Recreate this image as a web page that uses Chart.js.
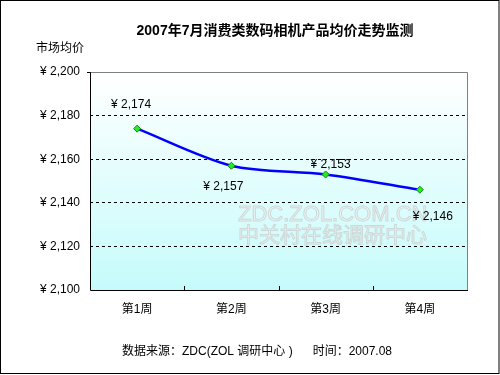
<!DOCTYPE html>
<html>
<head>
<meta charset="utf-8">
<script src="https://cdn.jsdelivr.net/npm/chart.js@4/dist/chart.umd.min.js"></script>
<style>
  html, body { margin: 0; padding: 0; background: #fff; }
  canvas { display: block; }
</style>
</head>
<body>
<canvas id="chart" width="500" height="375"></canvas>
<script>
// data
const weeks = ["第1周", "第2周", "第3周", "第4周"];
const avgPrice = [2174, 2157, 2153, 2146];
const yTicks = [2100, 2120, 2140, 2160, 2180, 2200];

const FONT = '"Liberation Sans", "Noto Sans CJK SC", sans-serif';

// label offsets relative to each point (dx, dy)
const labelOffsets = [[-6, -24], [-8, 21], [5, -10], [13, 27]];

function yen(v) {
    return "¥ " + v.toLocaleString("en-US");
}

const decorPlugin = {
    id: "decor",
    beforeDraw(chart) {
        const { ctx, chartArea: a } = chart;
        ctx.save();
        ctx.fillStyle = "#fff";
        ctx.fillRect(0, 0, chart.width, chart.height);
        const g = ctx.createLinearGradient(0, a.top, 0, a.bottom);
        g.addColorStop(0, "#ffffff");
        g.addColorStop(1, "#c6fbfb");
        ctx.fillStyle = g;
        ctx.fillRect(a.left, a.top, a.right - a.left, a.bottom - a.top);
        ctx.restore();
    },
    beforeDatasetsDraw(chart) {
        const { ctx, chartArea: a } = chart;
        ctx.save();
        // watermark
        ctx.textAlign = "left";
        ctx.textBaseline = "middle";
        ctx.fillStyle = "rgba(240,244,244,0.9)";
        ctx.strokeStyle = "rgba(200,208,208,0.8)";
        ctx.lineWidth = 1;
        ctx.font = "22px " + FONT;
        ctx.fillText("ZDC.ZOL.COM.CN", 238, 215);
        ctx.strokeText("ZDC.ZOL.COM.CN", 238, 215);
        ctx.font = "21px " + FONT;
        ctx.fillText("中关村在线调研中心", 238, 236);
        ctx.strokeText("中关村在线调研中心", 238, 236);

        // plot borders
        ctx.lineWidth = 1;
        ctx.strokeStyle = "#808080";
        ctx.beginPath();
        ctx.moveTo(a.left, a.top + 0.5);
        ctx.lineTo(a.right + 0.5, a.top + 0.5);
        ctx.lineTo(a.right + 0.5, a.bottom);
        ctx.stroke();
        ctx.strokeStyle = "#000";
        ctx.beginPath();
        ctx.moveTo(a.left - 3, a.top + 0.5);
        ctx.lineTo(a.left + 0.5, a.top + 0.5);
        ctx.lineTo(a.left + 0.5, a.bottom + 0.5);
        ctx.lineTo(a.right + 1, a.bottom + 0.5);
        ctx.stroke();

        // inward tick marks between categories
        const xs = chart.scales.x;
        ctx.beginPath();
        for (let i = 1; i < weeks.length; i++) {
            const x = Math.round((xs.getPixelForValue(i - 1) + xs.getPixelForValue(i)) / 2) + 0.5;
            ctx.moveTo(x, a.bottom - 4);
            ctx.lineTo(x, a.bottom);
        }
        ctx.stroke();
        ctx.restore();
    },
    afterDatasetsDraw(chart) {
        const { ctx } = chart;
        const meta = chart.getDatasetMeta(0);
        ctx.save();
        ctx.font = "12px " + FONT;
        ctx.fillStyle = "#000";
        ctx.textAlign = "center";
        ctx.textBaseline = "middle";
        meta.data.forEach((pt, i) => {
            const [dx, dy] = labelOffsets[i];
            ctx.fillText(yen(avgPrice[i]), pt.x + dx, pt.y + dy);
        });
        ctx.restore();
    },
    afterDraw(chart) {
        const { ctx } = chart;
        ctx.save();
        ctx.fillStyle = "#000";
        ctx.textBaseline = "middle";
        ctx.textAlign = "center";
        ctx.font = "bold 14px " + FONT;
        ctx.fillText("2007年7月消费类数码相机产品均价走势监测", 275, 31);
        ctx.textAlign = "left";
        ctx.font = "12px " + FONT;
        ctx.fillText("市场均价", 36, 49);
        ctx.fillText("数据来源：ZDC(ZOL 调研中心 )      时间：2007.08", 122, 352);
        ctx.strokeStyle = "#000";
        ctx.lineWidth = 1;
        ctx.strokeRect(0.5, 0.5, chart.width - 1.5, chart.height - 2);
        ctx.restore();
    }
};

new Chart(document.getElementById("chart"), {
    type: "line",
    data: {
        labels: weeks,
        datasets: [{
            data: avgPrice,
            borderColor: "#0000ff",
            borderWidth: 2.5,
            tension: 0.3,
            pointStyle: "rectRot",
            pointRadius: 3.5,
            pointBackgroundColor: "#22ee22",
            pointBorderColor: "#118811",
            pointBorderWidth: 1
        }]
    },
    options: {
        responsive: false,
        animation: false,
        layout: { padding: { left: 0, right: 33, top: 72, bottom: 0 } },
        plugins: {
            legend: { display: false },
            tooltip: { enabled: false }
        },
        scales: {
            x: {
                offset: true,
                afterFit(scale) { scale.height = 85; },
                grid: { display: false, drawTicks: false },
                border: { display: false },
                ticks: {
                    padding: 12,
                    color: "#000",
                    font: { family: FONT, size: 12 }
                }
            },
            y: {
                min: yTicks[0],
                max: yTicks[yTicks.length - 1],
                afterFit(scale) { scale.width = 90; },
                afterBuildTicks(scale) {
                    scale.ticks = yTicks.map(v => ({ value: v }));
                },
                border: { display: false, dash: [3, 3] },
                grid: {
                    drawTicks: false,
                    color(c) {
                        const v = c.tick && c.tick.value;
                        return (v === yTicks[0] || v === yTicks[yTicks.length - 1]) ? "rgba(0,0,0,0)" : "#000";
                    },
                    lineWidth: 1
                },
                ticks: {
                    padding: 10,
                    color: "#000",
                    font: { family: FONT, size: 12 },
                    callback: v => yen(v)
                }
            }
        }
    },
    plugins: [decorPlugin]
});
</script>
</body>
</html>
